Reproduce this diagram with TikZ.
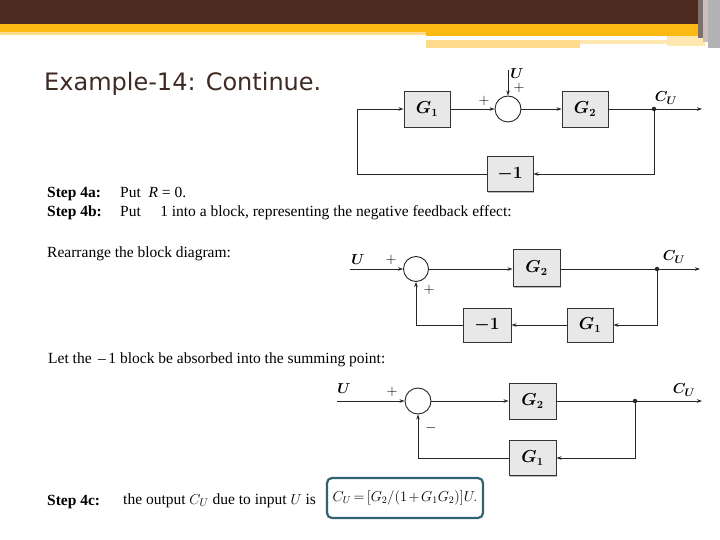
\documentclass[tikz,border=0pt]{standalone}
\usepackage{fontspec}
\usepackage{bm}
\setmainfont{Liberation Serif}
\newfontfamily\titlefont{DejaVu Sans}
\usetikzlibrary{arrows.meta,shadows}
\definecolor{hdrbrown}{HTML}{4D2A1F}
\definecolor{hdrgold}{HTML}{FDB913}
\definecolor{hdrlight}{HTML}{FEDC8C}
\definecolor{hdrpale}{HTML}{FEE8B0}
\definecolor{titlecol}{HTML}{3E2A22}
\definecolor{boxteal}{HTML}{2F6272}
\begin{document}
\begin{tikzpicture}[x=1pt,y=-1pt,
  blk/.style={draw=black!80,fill=black!9,line width=0.9pt,inner sep=0pt,
    font=\fontsize{16}{18}\selectfont,
    drop shadow={shadow xshift=1.2pt,shadow yshift=-1.2pt,fill=black!55}},
  summer/.style={circle,draw=black!85,line width=0.9pt,fill=white,inner sep=0pt},
  ln/.style={draw=black!85,line width=0.8pt},
  arr/.style={ln,-{Stealth[length=5pt,width=3.5pt]}},
  dotn/.style={circle,fill=black!85,inner sep=0pt,minimum size=4.5pt},
  lbl/.style={inner sep=0pt,font=\fontsize{15}{17}\selectfont},
  txt/.style={anchor=base west,inner sep=0pt,font=\fontsize{15.5}{18}\selectfont}]
\useasboundingbox (0,0) rectangle (720,540);
% header
\fill[hdrbrown] (0,0) rectangle (698,24);
\fill[hdrgold] (0,24) rectangle (698,32);
\fill[hdrgold] (426,32) rectangle (698,36);
\fill[hdrlight] (0,32) rectangle (426,35);
\fill[hdrlight] (426,40) rectangle (580,48);
\fill[hdrpale] (580,40) rectangle (667,44);
\fill[hdrpale] (667,36) rectangle (705,46);
\fill[black!55!hdrbrown!60!white] (698,0) rectangle (703,38);
\fill[hdrbrown!30!white] (703,0) rectangle (708,42);
\fill[black!30] (708,0) rectangle (720,48);
% title
\node[anchor=west,inner sep=0pt,text=titlecol,font=\titlefont\fontsize{24}{28}\selectfont] (title) at (44,84) {Example-14: Continue.};

% diagram 1
\node[blk,minimum width=46pt,minimum height=36pt] (g1a) at (427,109) {$\bm{G}_{\bm 1}$};
\node[summer,minimum size=26pt] (s1) at (508,109) {};
\node[blk,minimum width=46pt,minimum height=36pt] (g2a) at (585,109) {$\bm{G}_{\bm 2}$};
\node[blk,minimum width=46pt,minimum height=35pt] (nega) at (510,174) {$\bm{-1}$};
\node[dotn] (d1) at (654,109) {};
\coordinate (o1) at (702,109);
\coordinate (u1) at (508,70);
\coordinate (k1) at (357,174);
\draw[arr] (u1) -- (s1.north);
\draw[arr] (g1a.east) -- (s1.west);
\draw[arr] (s1.east) -- (g2a.west);
\draw[ln] (g2a.east) -- (d1);
\draw[arr] (d1) -- (o1);
\draw[arr] (d1) |- (nega.east);
\draw[ln] (nega.west) -- (k1);
\draw[arr] (k1) |- (g1a.west);
\node[lbl] (p1a) at (484,101) {$+$};
\node[lbl] (p1b) at (519,88) {$+$};
\node[lbl] (ua) at (517,74) {$\bm{U}$};
\node[lbl] (cua) at (666,98) {$\bm{C_U}$};

% step texts
\node[txt] (s4a) at (47,198) {\textbf{Step 4a:}};
\node[txt] (s4at) at (120,198) {Put \ \textit{R} = 0.};
\node[txt] (s4b) at (47,216) {\textbf{Step 4b:}};
\node[txt] (s4bt) at (120,216) {Put \quad 1 into a block, representing the negative feedback effect:};
\node[txt] (rearr) at (47,257) {Rearrange the block diagram:};

% diagram 2
\node[summer,minimum size=25pt] (s2) at (416,269) {};
\node[blk,minimum width=47pt,minimum height=37pt] (g2b) at (536.5,268) {$\bm{G}_{\bm 2}$};
\node[blk,minimum width=46pt,minimum height=34pt] (g1b) at (590,325) {$\bm{G}_{\bm 1}$};
\node[blk,minimum width=48pt,minimum height=34pt] (negb) at (487,325) {$\bm{-1}$};
\node[dotn] (d2) at (657,269) {};
\coordinate (i2) at (350,269);
\coordinate (o2) at (700,269);
\draw[arr] (i2) -- (s2.west);
\draw[arr] (s2.east) -- (s2.east -| g2b.west);
\draw[ln] (g2b.east |- d2) -- (d2);
\draw[arr] (d2) -- (o2);
\draw[arr] (d2) |- (g1b.east);
\draw[arr] (g1b.west) -- (negb.east);
\draw[arr] (negb.west) -| (s2.south);
\node[lbl] (ub) at (358,260) {$\bm{U}$};
\node[lbl] (p2a) at (391,260) {$+$};
\node[lbl] (p2b) at (429,290) {$+$};
\node[lbl] (cub) at (674,257) {$\bm{C_U}$};

\node[txt] (letthe) at (48,363) {Let the \,–\,1 block be absorbed into the summing point:};

% diagram 3
\node[summer,minimum size=26pt] (s3) at (418,401) {};
\node[blk,minimum width=47pt,minimum height=36pt] (g2c) at (532.5,401) {$\bm{G}_{\bm 2}$};
\node[blk,minimum width=47pt,minimum height=35pt] (g1c) at (532.5,458) {$\bm{G}_{\bm 1}$};
\node[dotn] (d3) at (635,401) {};
\coordinate (i3) at (337,401);
\coordinate (o3) at (702,401);
\draw[arr] (i3) -- (s3.west);
\draw[arr] (s3.east) -- (g2c.west);
\draw[ln] (g2c.east) -- (d3);
\draw[arr] (d3) -- (o3);
\draw[arr] (d3) |- (g1c.east);
\draw[arr] (g1c.west) -| (s3.south);
\node[lbl] (uc) at (344,389) {$\bm{U}$};
\node[lbl] (p3a) at (392,392) {$+$};
\node[lbl] (m3) at (431,428) {$-$};
\node[lbl] (cuc) at (684,390) {$\bm{C_U}$};

% step 4c
\node[txt] (s4c) at (47,505) {\textbf{Step 4c:}};
\node[txt] (s4ct) at (123,504) {the output $C_U$ due to input $U$ is};
\node[draw=boxteal,line width=2.2pt,rounded corners=5pt,minimum width=156pt,minimum height=40pt,inner sep=0pt,font=\fontsize{14}{16}\selectfont] (res) at (405,498) {$\medmuskip=2mu\thickmuskip=3mu C_U = [G_2/(1 + G_1G_2)]U.$};
\end{tikzpicture}
\end{document}
